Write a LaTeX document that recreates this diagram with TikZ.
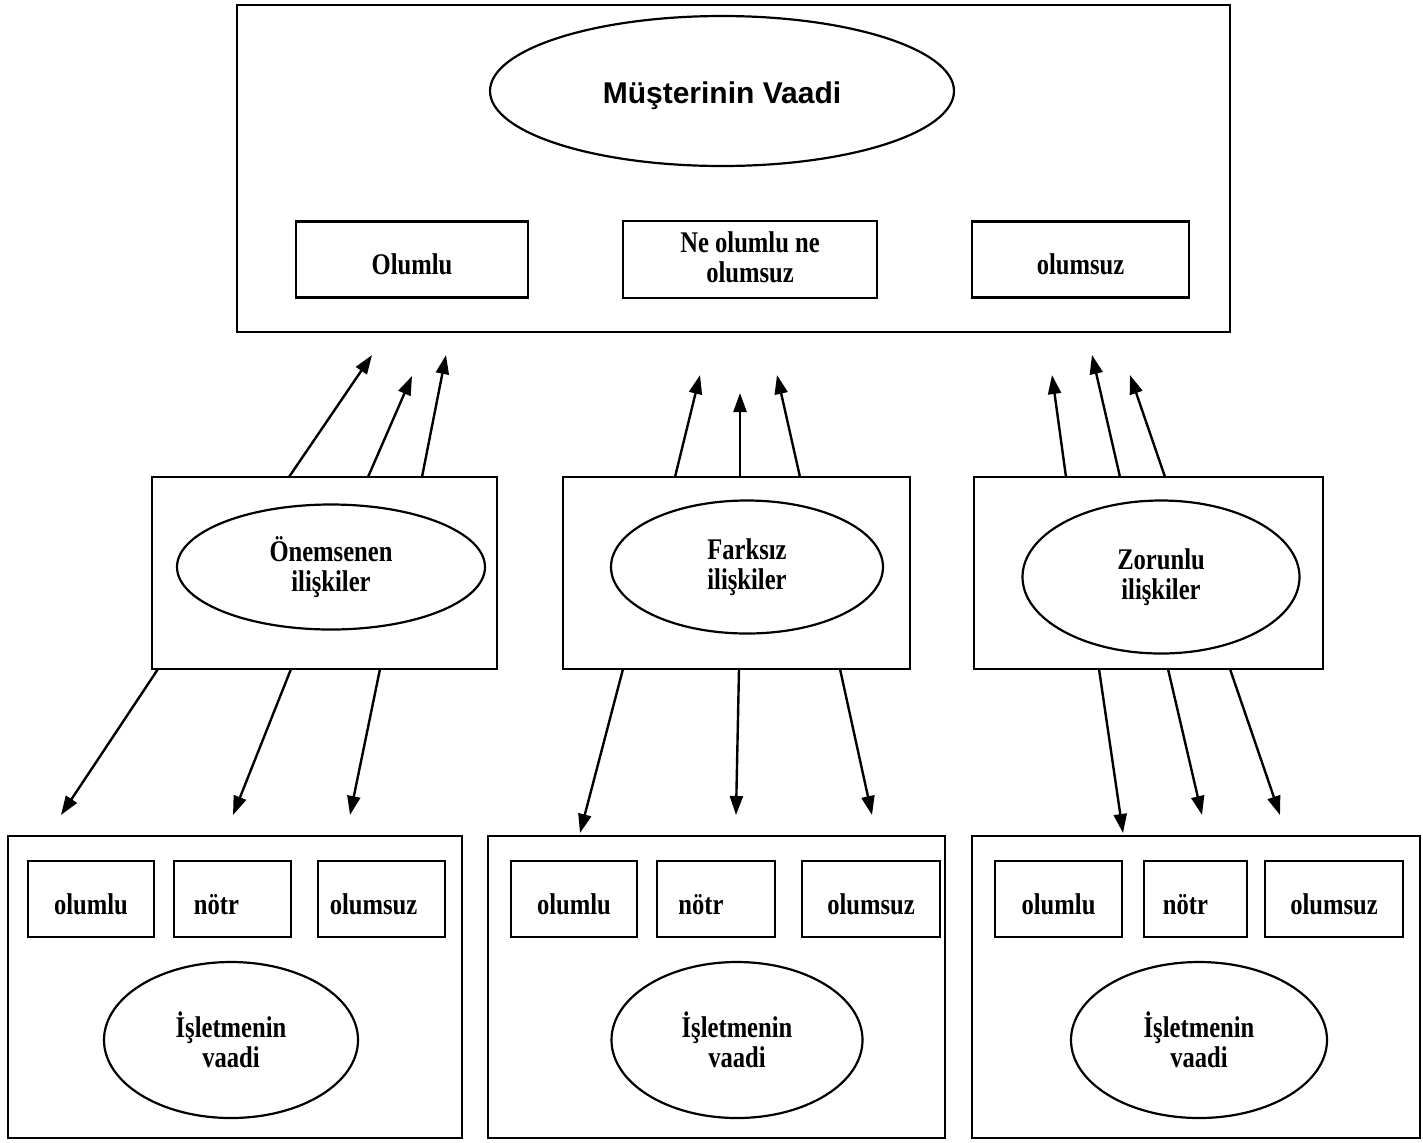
\documentclass[tikz,border=0pt]{standalone}
\usepackage{fontspec}
\setmainfont{Liberation Serif}[FakeStretch=0.82]
\newfontfamily\headsans{Liberation Sans}
\usetikzlibrary{shapes.geometric,arrows.meta}
\tikzset{
  x=0.5pt, y=-0.5pt,
  frame/.style={draw, line width=1.3pt, inner sep=0pt},
  optbox/.style={draw, line width=1.2pt, inner sep=0pt, minimum height=38.5pt,
    font=\bfseries\fontsize{15}{15}\selectfont, align=center},
  onebox/.style={optbox, minimum height=38pt, text height=15.5pt, text depth=0.5pt},
  oval/.style={draw, ellipse, line width=1.1pt, inner sep=0pt,
    font=\bfseries\fontsize{15}{15}\selectfont, align=center},
  arr/.style={line width=1.2pt, -{Triangle[length=9.5pt,width=6.5pt]}}
}
\begin{document}
\begin{tikzpicture}
\useasboundingbox (0,0) rectangle (1423,1142);
% top
\node[frame, minimum width=496.5pt, minimum height=163.5pt] (top) at (733.5,168.5) {};
\node[oval, minimum width=232pt, minimum height=75pt, text height=12pt, text depth=0pt,
  font=\headsans\bfseries\fontsize{15}{15}\selectfont] (mv) at (722,91) {Müşterinin Vaadi};
\node[onebox, minimum width=116pt] (t1) at (412,259.5) {Olumlu};
\node[optbox, minimum width=127pt] (t2) at (750,259.5) {\vphantom{Ng}Ne olumlu ne\\olumsuz\rule[-2pt]{0pt}{2pt}};
\node[onebox, minimum width=108.5pt] (t3) at (1080.5,259.5) {olumsuz};
% middle
\node[frame, minimum width=172.5pt, minimum height=96pt] (m1) at (324.5,573) {};
\node[frame, minimum width=173.5pt, minimum height=96pt] (m2) at (736.5,573) {};
\node[frame, minimum width=174.5pt, minimum height=96pt] (m3) at (1148.5,573) {};
\node[oval, minimum width=154pt, minimum height=62.5pt] (r1) at (331,567) {Önemsenen\\ilişkiler};
\node[oval, minimum width=136pt, minimum height=66.5pt] (r2) at (747,567) {Farksız\\ilişkiler};
\node[oval, minimum width=138.5pt, minimum height=76.5pt] (r3) at (1161,577) {Zorunlu\\ilişkiler};
% bottom
\node[frame, minimum width=227pt, minimum height=151pt] (b1) at (235,987) {};
\node[frame, minimum width=228.5pt, minimum height=151pt] (b2) at (716.5,987) {};
\node[frame, minimum width=224pt, minimum height=151pt] (b3) at (1196,987) {};
\node[onebox, minimum width=63pt] (b1a) at (91,899) {olumlu};
\node[onebox, minimum width=58.5pt] (b1b) at (232.5,899) {nötr\hspace*{16pt}};
\node[onebox, minimum width=63.5pt] (b1c) at (381.5,899) {olumsuz\hspace*{8pt}};
\node[onebox, minimum width=63pt] (b2a) at (574,899) {olumlu};
\node[onebox, minimum width=59pt] (b2b) at (716,899) {nötr\hspace*{15pt}};
\node[onebox, minimum width=69pt] (b2c) at (871,899) {olumsuz};
\node[onebox, minimum width=63.5pt] (b3a) at (1058.5,899) {olumlu};
\node[onebox, minimum width=51.5pt] (b3b) at (1195.5,899) {nötr\hspace*{10pt}};
\node[onebox, minimum width=69pt] (b3c) at (1334,899) {olumsuz};
\node[oval, minimum width=127pt, minimum height=78pt] (p1) at (231,1040) {İşletmenin\\vaadi};
\node[oval, minimum width=125.5pt, minimum height=78pt] (p2) at (737,1040) {İşletmenin\\vaadi};
\node[oval, minimum width=128pt, minimum height=78pt] (p3) at (1199,1040) {İşletmenin\\vaadi};
% arrow end points
\coordinate (u1a) at (289,477); \coordinate (v1a) at (372,355);
\coordinate (u1b) at (368,477); \coordinate (v1b) at (412,376);
\coordinate (u1c) at (422,477); \coordinate (v1c) at (446,355);
\coordinate (u2a) at (675,477); \coordinate (v2a) at (700,375);
\coordinate (u2b) at (740,477); \coordinate (v2b) at (740,393);
\coordinate (u2c) at (800,477); \coordinate (v2c) at (777,375);
\coordinate (u3a) at (1066,477); \coordinate (v3a) at (1052,375);
\coordinate (u3b) at (1120,477); \coordinate (v3b) at (1092,355);
\coordinate (u3c) at (1165,477); \coordinate (v3c) at (1130,375);
\coordinate (d1a) at (158,669); \coordinate (e1a) at (61,815);
\coordinate (d1b) at (291,669); \coordinate (e1b) at (233,815);
\coordinate (d1c) at (380,669); \coordinate (e1c) at (350,815);
\coordinate (d2a) at (623,669); \coordinate (e2a) at (580,833);
\coordinate (d2b) at (739,669); \coordinate (e2b) at (736,815);
\coordinate (d2c) at (840,669); \coordinate (e2c) at (872,815);
\coordinate (d3a) at (1099,669); \coordinate (e3a) at (1123,833);
\coordinate (d3b) at (1168,669); \coordinate (e3b) at (1202,815);
\coordinate (d3c) at (1230,669); \coordinate (e3c) at (1280,815);
\foreach \g in {1,2,3}{
  \foreach \k in {a,b,c}{
    \draw[arr] (u\g\k) -- (v\g\k);
    \draw[arr] (d\g\k) -- (e\g\k);
  }
}
\end{tikzpicture}
\end{document}
